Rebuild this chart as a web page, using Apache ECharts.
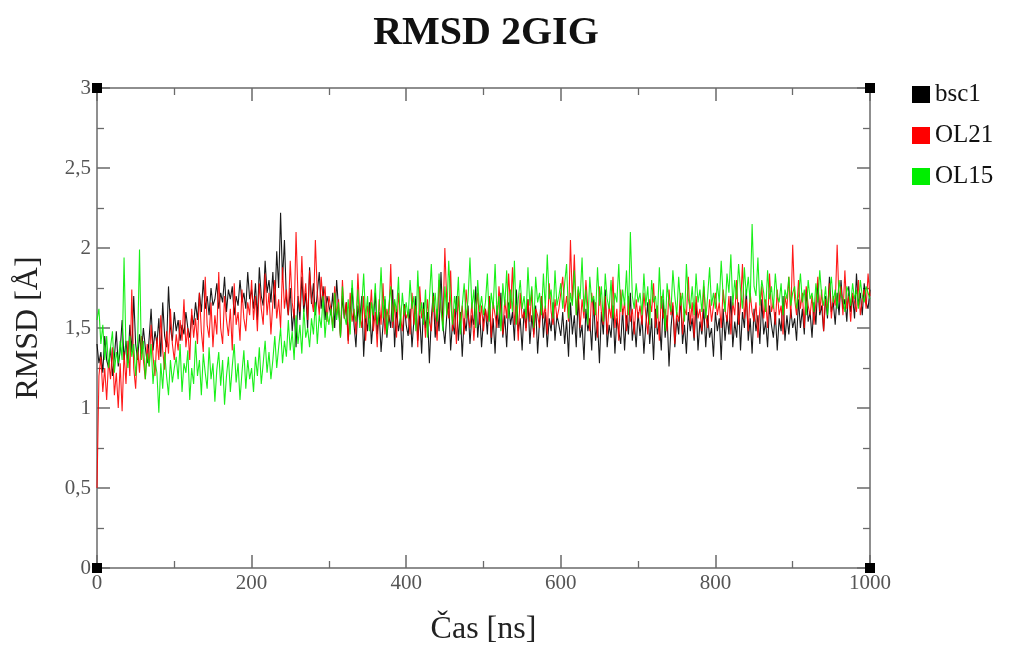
<!DOCTYPE html>
<html><head><meta charset="utf-8">
<script src="https://cdn.jsdelivr.net/npm/echarts@6/dist/echarts.min.js"></script>
<style>html,body{margin:0;padding:0;background:#fff}#c{width:1018px;height:646px}</style>
</head><body><div id="c"></div>
<script>
var timeStepNs = 2.5;
var yTicks = ['0','0,5','1','1,5','2','2,5','3'];
var xTicks = ['0','200','400','600','800','1000'];
var seriesNames = ['bsc1','OL21','OL15'];
var bsc1 = [
1.40,1.28,1.35,1.22,1.45,1.30,1.25,1.38,1.20,1.32,1.48,1.26,1.36,1.55,1.30,1.42,1.28,1.52,1.35,1.70,1.40,1.30,1.46,1.34,1.50,1.38,1.28,1.44,1.62,1.36,1.48,1.40,1.56,1.32,1.66,1.45,1.38,1.76,1.50,1.42,1.60,
1.48,1.55,1.42,1.52,1.46,1.60,1.50,1.44,1.58,1.52,1.66,1.55,1.72,1.60,1.80,1.62,1.70,1.58,1.75,1.64,1.68,1.78,1.62,1.72,1.66,1.82,1.60,1.74,1.68,1.76,1.58,1.70,1.64,1.80,1.66,1.72,1.62,1.85,1.68,1.74,
1.62,1.78,1.55,1.88,1.70,1.64,1.92,1.72,1.80,1.66,1.85,1.62,1.98,1.75,2.22,1.80,2.05,1.68,1.58,1.75,1.48,1.62,1.38,1.70,1.55,1.82,1.60,1.72,1.50,1.88,1.65,1.78,1.58,1.72,1.85,1.62,1.76,1.55,1.70,1.64,
1.58,1.72,1.50,1.80,1.62,1.45,1.70,1.56,1.66,1.42,1.60,1.75,1.52,1.38,1.64,1.55,1.70,1.32,1.58,1.48,1.66,1.40,1.55,1.72,1.46,1.60,1.35,1.52,1.68,1.44,1.58,1.50,1.74,1.38,1.62,1.48,1.56,1.30,1.65,1.52,
1.45,1.62,1.38,1.55,1.70,1.42,1.58,1.34,1.66,1.50,1.60,1.28,1.56,1.72,1.44,1.62,1.48,1.85,1.52,1.40,1.58,1.66,1.36,1.54,1.46,1.70,1.42,1.60,1.32,1.56,1.48,1.64,1.40,1.58,1.52,1.76,1.44,1.60,1.38,1.55,
1.62,1.46,1.70,1.40,1.56,1.34,1.64,1.50,1.72,1.44,1.58,1.38,1.66,1.52,1.60,1.42,1.74,1.48,1.56,1.36,1.62,1.50,1.68,1.40,1.58,1.46,1.64,1.34,1.54,1.70,1.44,1.60,1.38,1.56,1.48,1.66,1.42,1.58,1.52,1.45,
1.60,1.40,1.55,1.32,1.66,1.46,1.58,1.38,1.70,1.44,1.52,1.30,1.62,1.48,1.56,1.36,1.68,1.42,1.54,1.28,1.60,1.46,1.74,1.38,1.52,1.44,1.64,1.34,1.56,1.48,1.40,1.62,1.36,1.58,1.46,1.72,1.42,1.54,1.38,1.60,
1.45,1.58,1.34,1.52,1.66,1.40,1.56,1.30,1.62,1.46,1.54,1.36,1.68,1.44,1.58,1.26,1.50,1.64,1.38,1.56,1.46,1.70,1.40,1.52,1.34,1.60,1.48,1.56,1.42,1.66,1.36,1.54,1.46,1.62,1.38,1.58,1.44,1.50,1.32,1.60,
1.48,1.56,1.30,1.62,1.42,1.58,1.46,1.70,1.38,1.54,1.44,1.66,1.36,1.60,1.50,1.74,1.42,1.56,1.34,1.62,1.48,1.58,1.40,1.68,1.46,1.54,1.38,1.64,1.52,1.44,1.60,1.36,1.56,1.48,1.70,1.42,1.58,1.46,1.62,1.50,
1.56,1.42,1.68,1.50,1.62,1.46,1.74,1.54,1.60,1.44,1.66,1.52,1.78,1.58,1.64,1.48,1.70,1.56,1.82,1.60,1.66,1.52,1.72,1.58,1.80,1.62,1.68,1.54,1.76,1.60,1.70,1.56,1.84,1.64,1.72,1.58,1.78,1.66,1.62,1.74
];
var ol21 = [
0.50,1.20,1.32,1.10,1.25,1.05,1.30,1.18,1.38,1.08,1.22,1.00,1.28,0.98,1.35,1.15,1.42,1.20,1.74,1.25,1.12,1.38,1.22,1.45,1.30,1.18,1.40,1.26,1.52,1.32,1.20,1.44,1.30,1.58,1.36,1.24,1.48,1.34,1.62,1.40,1.30,
1.46,1.36,1.55,1.42,1.68,1.38,1.50,1.30,1.62,1.44,1.56,1.40,1.72,1.48,1.35,1.82,1.52,1.44,1.66,1.38,1.58,1.46,1.85,1.50,1.40,1.70,1.55,1.45,1.62,1.36,1.78,1.52,1.60,1.42,1.74,1.56,1.48,1.66,1.58,1.80,
1.55,1.70,1.48,1.78,1.62,1.52,1.84,1.58,1.72,1.46,1.66,1.80,1.56,1.68,1.50,1.88,1.62,1.74,1.58,1.92,1.66,1.56,2.10,1.70,1.60,1.95,1.64,1.78,1.55,1.86,1.68,1.60,2.05,1.72,1.58,1.82,1.66,1.76,1.54,1.70,
1.62,1.50,1.76,1.58,1.68,1.44,1.80,1.56,1.66,1.40,1.72,1.54,1.62,1.46,1.84,1.58,1.50,1.70,1.42,1.64,1.56,1.74,1.48,1.60,1.38,1.68,1.52,1.78,1.46,1.62,1.54,1.90,1.50,1.66,1.44,1.72,1.58,1.48,1.64,1.56,
1.60,1.46,1.72,1.52,1.64,1.38,1.76,1.56,1.62,1.44,1.68,1.54,1.48,1.70,1.58,1.42,1.80,1.62,1.52,2.00,1.66,1.56,1.86,1.48,1.62,1.40,1.70,1.54,1.64,1.46,1.74,1.58,1.50,1.66,1.42,1.60,1.72,1.52,1.64,1.48,
1.62,1.54,1.70,1.44,1.66,1.58,1.50,1.76,1.60,1.46,1.68,1.56,1.84,1.62,1.88,1.52,1.64,1.42,1.72,1.56,1.60,1.48,1.68,1.54,1.74,1.44,1.62,1.58,1.50,1.70,1.56,1.64,1.46,1.78,1.60,1.52,1.68,1.56,1.62,1.72,
1.82,1.60,1.70,1.54,2.05,1.66,1.96,1.58,1.74,1.50,1.68,1.56,1.80,1.62,1.48,1.72,1.58,1.66,1.44,1.76,1.60,1.52,1.70,1.46,1.64,1.56,1.82,1.50,1.62,1.42,1.74,1.58,1.66,1.48,1.70,1.54,1.62,1.46,1.68,1.56,
1.64,1.52,1.72,1.58,1.46,1.68,1.60,1.78,1.50,1.64,1.42,1.70,1.56,1.62,1.48,1.74,1.58,1.66,1.40,1.60,1.54,1.72,1.46,1.62,1.58,1.82,1.52,1.66,1.44,1.70,1.56,1.62,1.48,1.76,1.58,1.50,1.68,1.54,1.64,1.72,
1.58,1.66,1.50,1.74,1.62,1.54,1.70,1.46,1.66,1.58,1.80,1.52,1.64,1.90,1.56,1.68,1.48,1.72,1.60,1.54,1.66,1.44,1.62,1.76,1.56,1.68,1.50,1.84,1.60,1.66,1.52,1.74,1.58,1.64,1.46,1.70,1.62,1.82,1.56,2.02,
1.68,1.58,1.80,1.62,1.72,1.50,1.76,1.64,1.58,1.70,1.52,1.66,1.82,1.60,1.74,1.48,1.68,1.62,1.78,1.56,1.70,1.64,2.02,1.66,1.76,1.58,1.86,1.62,1.70,1.54,1.72,1.66,1.60,1.80,1.58,1.68,1.74,1.62,1.84,1.70
];
var ol15 = [
1.55,1.62,1.40,1.52,1.30,1.45,1.25,1.38,1.48,1.22,1.35,1.28,1.42,1.30,1.94,1.36,1.25,1.45,1.32,1.40,1.20,1.38,1.99,1.30,1.42,1.18,1.34,1.26,1.40,1.15,1.30,1.22,0.97,1.28,1.12,1.35,1.20,1.08,1.30,1.16,1.25,
1.32,1.18,1.40,1.10,1.28,1.22,1.36,1.05,1.25,1.15,1.42,1.20,1.30,1.08,1.34,1.22,1.12,1.38,1.18,1.28,1.04,1.24,1.35,1.14,1.30,1.02,1.20,1.32,1.10,1.26,1.40,1.16,1.28,1.05,1.22,1.36,1.12,1.30,1.18,1.25,
1.10,1.32,1.20,1.38,1.15,1.28,1.42,1.22,1.35,1.18,1.30,1.45,1.25,1.38,1.50,1.28,1.42,1.32,1.55,1.36,1.48,1.30,1.58,1.40,1.52,1.34,1.62,1.44,1.50,1.38,1.56,1.46,1.66,1.40,1.58,1.50,1.70,1.44,1.60,1.52,
1.62,1.48,1.72,1.55,1.66,1.44,1.76,1.58,1.52,1.68,1.46,1.80,1.60,1.54,1.74,1.50,1.64,1.84,1.56,1.70,1.48,1.66,1.58,1.78,1.52,1.62,1.88,1.56,1.70,1.46,1.64,1.76,1.54,1.68,1.60,1.82,1.50,1.72,1.58,1.66,
1.56,1.80,1.62,1.70,1.48,1.86,1.58,1.66,1.52,1.74,1.44,1.68,1.90,1.60,1.72,1.54,1.84,1.62,1.48,1.76,1.58,1.92,1.66,1.52,1.70,1.60,1.82,1.46,1.64,1.78,1.56,1.68,1.94,1.62,1.74,1.50,1.80,1.60,1.70,1.58,
1.66,1.84,1.54,1.72,1.62,1.90,1.58,1.70,1.48,1.78,1.64,1.86,1.56,1.74,1.60,1.92,1.52,1.68,1.80,1.62,1.70,1.56,1.88,1.64,1.76,1.50,1.82,1.66,1.72,1.58,1.84,1.62,1.96,1.68,1.74,1.56,1.86,1.64,1.70,1.78,
1.62,1.78,1.90,1.56,1.72,1.64,1.86,1.58,1.76,1.68,1.94,1.60,1.74,1.52,1.82,1.66,1.70,1.58,1.88,1.64,1.76,1.54,1.84,1.68,1.62,1.80,1.56,1.72,1.66,1.90,1.60,1.74,1.64,1.86,1.58,2.10,1.70,1.62,1.78,1.66,
1.72,1.58,1.84,1.64,1.76,1.52,1.80,1.66,1.70,1.56,1.88,1.62,1.74,1.48,1.78,1.66,1.60,1.86,1.70,1.58,1.82,1.64,1.72,1.54,1.90,1.68,1.62,1.76,1.58,1.84,1.66,1.74,1.60,1.80,1.56,1.70,1.88,1.64,1.72,1.62,
1.78,1.66,1.92,1.70,1.60,1.84,1.72,1.96,1.64,1.80,1.68,1.90,1.74,1.62,1.88,1.70,1.82,1.66,2.15,1.76,1.70,1.94,1.64,1.80,1.72,1.60,1.86,1.68,1.76,1.62,1.84,1.70,1.66,1.78,1.58,1.74,1.68,1.82,1.64,1.72,
1.76,1.62,1.70,1.84,1.66,1.74,1.58,1.80,1.68,1.72,1.60,1.78,1.66,1.86,1.70,1.64,1.76,1.58,1.72,1.82,1.66,1.74,1.62,1.80,1.70,1.68,1.60,1.76,1.72,1.64,1.78,1.68,1.74,1.62,1.80,1.70,1.66,1.76,1.72,1.68
];
var colors = ['#000000','#ff0000','#00ee00'];
function pairs(arr){ return arr.map(function(v,i){ return [i*timeStepNs, v]; }); }
var serif = '"Liberation Serif","DejaVu Serif",serif';
var axisColor = '#6a6a6a';
var chart = echarts.init(document.getElementById('c'));
function axisBase(extra){
  var o = {
    axisLine:{show:true,onZero:false,lineStyle:{color:axisColor,width:1.5}},
    axisTick:{show:true,inside:true,length:13,lineStyle:{color:axisColor,width:1.5}},
    minorTick:{show:true,splitNumber:2,length:7,lineStyle:{color:axisColor,width:1.3}},
    splitLine:{show:false}
  };
  for (var k in extra) o[k]=extra[k];
  return o;
}
chart.setOption({
  animation:false,
  backgroundColor:'#fff',
  title:{text:'RMSD 2GIG',left:481,top:9,textAlign:'center',
    textStyle:{fontFamily:serif,fontWeight:'bold',fontSize:40,color:'#111'}},
  legend:{orient:'vertical',left:907,top:77,itemWidth:18,itemHeight:17,itemGap:16,icon:'rect',
    textStyle:{fontFamily:serif,fontSize:25,color:'#111',padding:[0,0,0,0]},
    data:seriesNames},
  grid:{left:97,right:148,top:88,bottom:78,containLabel:false,outerBoundsMode:'none'},
  xAxis:[
    axisBase({type:'value',position:'bottom',min:0,max:1000,interval:200,
      name:'Čas [ns]',nameLocation:'middle',nameGap:46,
      nameTextStyle:{fontFamily:serif,fontSize:32,color:'#222'},
      axisLabel:{fontFamily:serif,fontSize:21,color:'#555',margin:5,
        formatter:function(v){ return xTicks[Math.round(v/200)]; }}}),
    axisBase({type:'value',position:'top',min:0,max:1000,interval:200,axisLabel:{show:false}})
  ],
  yAxis:[
    axisBase({type:'value',position:'left',min:0,max:3,interval:0.5,
      name:'RMSD [Å]',nameLocation:'middle',nameGap:52,
      nameTextStyle:{fontFamily:serif,fontSize:32,color:'#222'},
      axisLabel:{fontFamily:serif,fontSize:21,color:'#555',margin:6,
        formatter:function(v){ return yTicks[Math.round(v/0.5)]; }}}),
    axisBase({type:'value',position:'right',min:0,max:3,interval:0.5,axisLabel:{show:false}})
  ],
  series:[bsc1,ol21,ol15].map(function(d,i){
    return {name:seriesNames[i],type:'line',data:pairs(d),showSymbol:false,symbol:'none',
      color:colors[i],lineStyle:{width:1.1,color:colors[i],opacity:0.9},xAxisIndex:0,yAxisIndex:0};
  })
});
var corners = [[0,0],[1000,0],[0,3],[1000,3]];
chart.setOption({graphic: corners.map(function(c){
  var p = chart.convertToPixel({xAxisIndex:0,yAxisIndex:0}, c);
  return {type:'rect',shape:{x:p[0]-5,y:p[1]-5,width:10,height:10},style:{fill:'#000'},z:100};
})});
</script></body></html>
